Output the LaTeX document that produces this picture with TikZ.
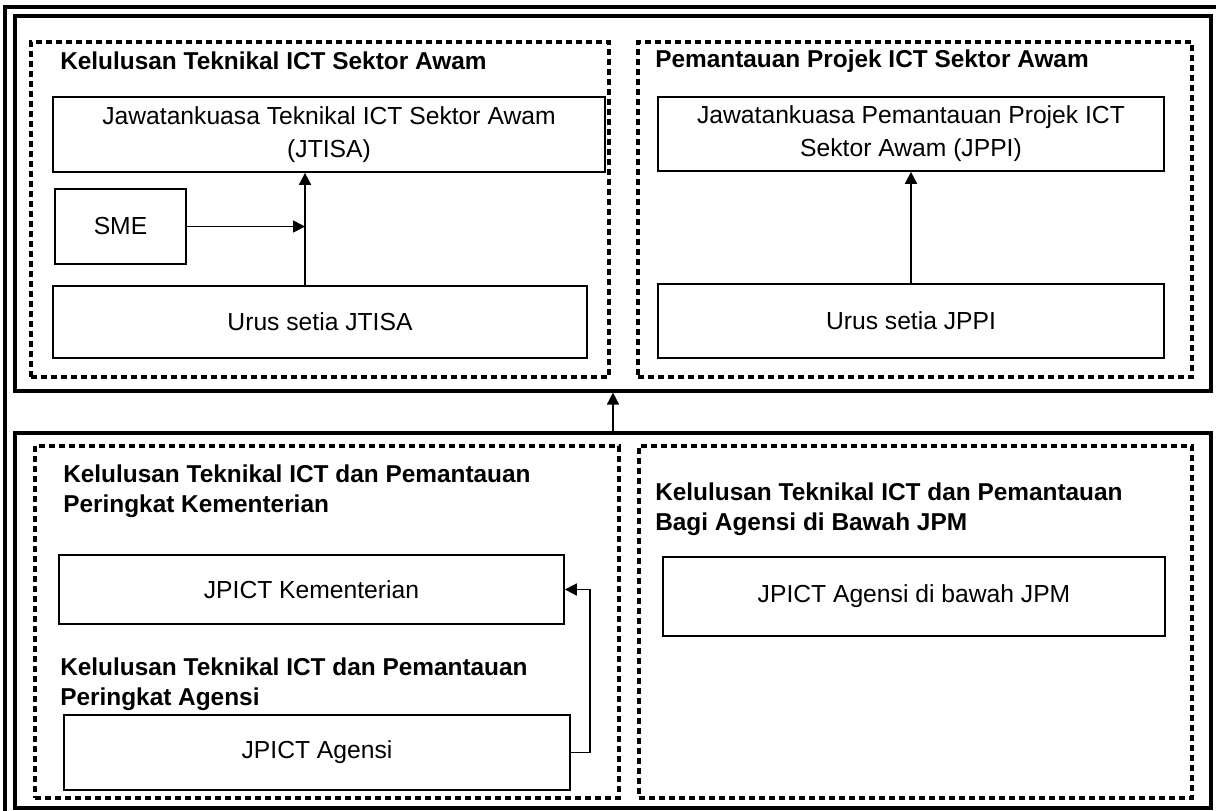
\documentclass[tikz,border=0pt]{standalone}
\usepackage{fontspec}
\setmainfont{Liberation Sans}
\usetikzlibrary{arrows.meta}
\begin{document}
\begin{tikzpicture}[x=0.75pt,y=-0.75pt,
  frame/.style={draw, line width=2.4pt, inner sep=0pt},
  group/.style={draw, line width=2.4pt, dash pattern=on 4.5pt off 3pt, inner sep=0pt},
  box/.style={draw, line width=1.3pt, align=center, inner sep=0pt, font=\fontsize{18.5}{24.75}\selectfont},
  ttl/.style={font=\bfseries\fontsize{18.3}{22.5}\selectfont, anchor=west, align=left, inner sep=0pt},
  arr/.style={line width=1.3pt, -{Triangle[length=9pt,width=9pt]}}
]
\useasboundingbox (0,0) rectangle (1216,810);
% outer frame (partly outside the picture)
\draw[line width=3pt] (5,812) -- (5,7) -- (1218,7);
% frames
\node[frame, minimum width={1196*0.75pt}, minimum height={375*0.75pt}] (topframe) at (613,203.5) {};
\node[frame, minimum width={1196*0.75pt}, minimum height={375*0.75pt}] (botframe) at (613,620.5) {};
% dashed groups
\node[group, minimum width={578*0.75pt}, minimum height={335*0.75pt}] (g1) at (320,209.5) {};
\node[group, minimum width={554*0.75pt}, minimum height={335*0.75pt}] (g2) at (915,209.5) {};
\node[group, minimum width={584*0.75pt}, minimum height={352*0.75pt}] (g3) at (327,622) {};
\node[group, minimum width={553*0.75pt}, minimum height={352*0.75pt}] (g4) at (915.5,622) {};
% titles
\node[ttl] (t1) at (60,61) {Kelulusan Teknikal ICT Sektor Awam};
\node[ttl] (t2) at (655,61) {Pemantauan Projek ICT Sektor Awam};
\node[ttl] (t3) at (63,491) {Kelulusan Teknikal ICT dan Pemantauan\\Peringkat Kementerian};
\node[ttl] (t4) at (60,684) {Kelulusan Teknikal ICT dan Pemantauan\\Peringkat Agensi};
\node[ttl] (t5) at (655,509) {Kelulusan Teknikal ICT dan Pemantauan\\Bagi Agensi di Bawah JPM};
% boxes
\node[box, minimum width={552*0.75pt}, minimum height={75*0.75pt}] (jtisa) at (329,134.5) {Jawatankuasa Teknikal ICT Sektor Awam\\(JTISA)};
\node[box, minimum width={131*0.75pt}, minimum height={75*0.75pt}] (sme) at (120.5,226.5) {SME};
\node[box, minimum width={534*0.75pt}, minimum height={72*0.75pt}] (ujt) at (320,322) {Urus setia JTISA};
\node[box, minimum width={506*0.75pt}, minimum height={74*0.75pt}] (jppi) at (911,134) {Jawatankuasa Pemantauan Projek ICT\\Sektor Awam (JPPI)};
\node[box, minimum width={506*0.75pt}, minimum height={74*0.75pt}] (ujp) at (911,321) {Urus setia JPPI};
\node[box, minimum width={505*0.75pt}, minimum height={69*0.75pt}] (jpk) at (311.5,589.5) {JPICT Kementerian};
\node[box, minimum width={506*0.75pt}, minimum height={75*0.75pt}] (jpa) at (317,752.5) {JPICT Agensi};
\node[box, minimum width={502*0.75pt}, minimum height={79*0.75pt}] (jpm) at (914,596.5) {JPICT Agensi di bawah JPM};
% connectors
\coordinate (join) at (305,226.5);
\draw[arr] (ujt.north -| join) -- (jtisa.south -| join);
\draw[arr] (sme.east) -- (join);
\draw[arr] (ujp.north) -- (jppi.south);
\draw[arr] (botframe.north) -- (topframe.south);
\draw[arr] (jpa.east) -- ++(19,0) |- (jpk.east);
\end{tikzpicture}
\end{document}
